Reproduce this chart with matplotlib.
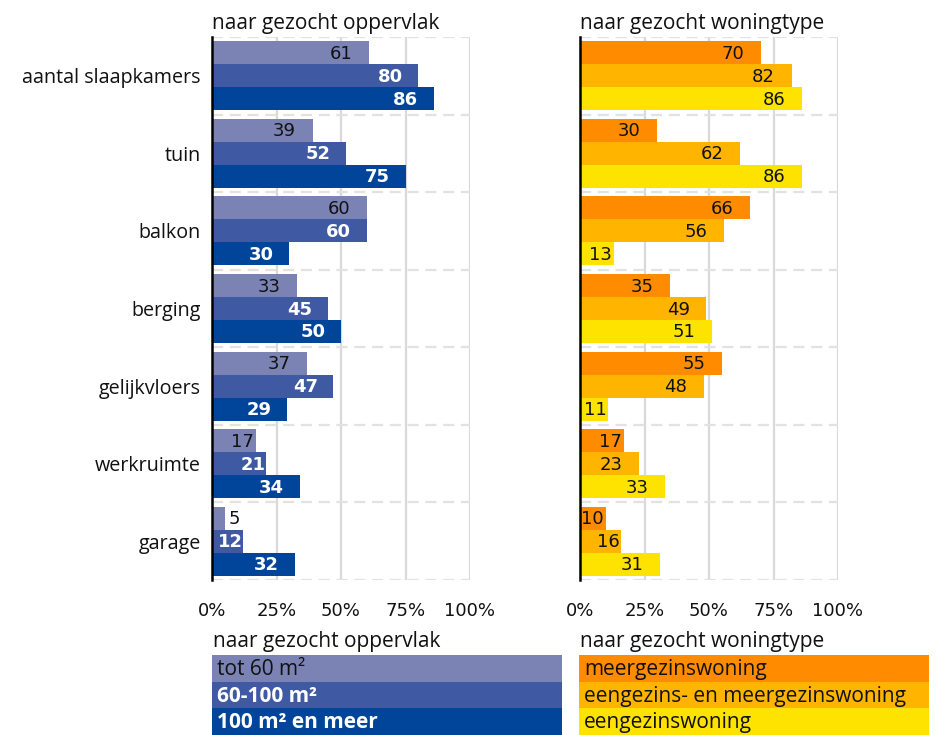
import matplotlib
matplotlib.use("Agg")
import matplotlib.pyplot as plt
from matplotlib.patches import Rectangle
import numpy as np

categories = ["aantal slaapkamers", "tuin", "balkon", "berging",
              "gelijkvloers", "werkruimte", "garage"]

# naar gezocht oppervlak
opp_series = ["tot 60 m²", "60-100 m²", "100 m² en meer"]
opp_tot60 = [61, 39, 60, 33, 37, 17, 5]
opp_60_100 = [80, 52, 60, 45, 47, 21, 12]
opp_100plus = [86, 75, 30, 50, 29, 34, 32]

# naar gezocht woningtype
type_series = ["meergezinswoning", "eengezins- en meergezinswoning", "eengezinswoning"]
type_meer = [70, 30, 66, 35, 55, 17, 10]
type_beide = [82, 62, 56, 49, 48, 23, 16]
type_eengez = [86, 86, 13, 51, 11, 33, 31]

xticks = [0, 25, 50, 75, 100]
xticklabels = ["0%", "25%", "50%", "75%", "100%"]

opp_colors = ["#7a83b3", "#3f59a3", "#00459a"]
opp_text = [("#111111", "normal"), ("white", "bold"), ("white", "bold")]
type_colors = ["#ff8c00", "#ffb400", "#ffe300"]
type_text = [("#111111", "normal")] * 3

LABEL_FONT = ["Open Sans", "DejaVu Sans"]
NUM_FONT = "DejaVu Sans"
CAT_SIZE = 14.2
TITLE_SIZE = 15

W, H = 939, 735
fig = plt.figure(figsize=(W / 100, H / 100), dpi=100)

bar_h = 0.296
n = len(categories)
ypos = np.arange(n)


def draw_panel(left_px, series_vals, colors, text_styles, title, show_labels):
    ax = fig.add_axes([left_px / W, 1 - 580 / H, 258 / W, 543 / H])
    ax.set_xlim(0, 100)
    ax.set_ylim(n - 0.5, -0.5)
    for k, (vals, col) in enumerate(zip(series_vals, colors)):
        offs = (k - 1) * bar_h
        bars = ax.barh(ypos + offs, vals, height=bar_h, color=col,
                       linewidth=0, zorder=3)
        tcol, tw = text_styles[k]
        for b, v in zip(bars, vals):
            yc = b.get_y() + b.get_height() / 2
            end_px = v * 2.58
            if v < 8:
                ax.annotate(str(v), (v, yc), xytext=(4, -1),
                            textcoords="offset pixels", ha="left", va="center",
                            fontsize=13, family=NUM_FONT, color="#111111",
                            zorder=4)
            else:
                shift = -28 if end_px - 28 >= 28 else -13
                ax.annotate(str(v), (v, yc), xytext=(shift, -1),
                            textcoords="offset pixels", ha="center", va="center",
                            fontsize=13, family=NUM_FONT, color=tcol,
                            fontweight=tw, zorder=4)
    # grid
    for x in xticks[1:]:
        ax.axvline(x, color="#d9d9d9", lw=1.6, zorder=1)
    for b in np.arange(-0.5, n, 1.0):
        ax.axhline(b, color="#e2e2e2", lw=1.6, ls=(0, (5, 3)), zorder=1)
    for s in ["top", "right", "bottom"]:
        ax.spines[s].set_visible(False)
    ax.spines["left"].set_color("black")
    ax.spines["left"].set_linewidth(1.8)
    ax.spines["left"].set_zorder(5)
    ax.set_xticks(xticks)
    ax.set_xticklabels(xticklabels, fontsize=13, family=NUM_FONT, color="#111111")
    ax.tick_params(axis="x", length=0, pad=16)
    ax.set_yticks(ypos)
    if show_labels:
        ax.set_yticklabels(categories, fontsize=CAT_SIZE, family=LABEL_FONT,
                           color="#111111")
    else:
        ax.set_yticklabels([])
    ax.tick_params(axis="y", length=0, pad=8)
    fig.text(left_px / W, 1 - 24 / H, title, ha="left", va="center",
             fontsize=TITLE_SIZE, family=LABEL_FONT, color="#111111")
    return ax


draw_panel(212, [opp_tot60, opp_60_100, opp_100plus], opp_colors, opp_text,
           "naar gezocht oppervlak", True)
draw_panel(580, [type_meer, type_beide, type_eengez], type_colors, type_text,
           "naar gezocht woningtype", False)


def draw_legend(left_px, title, labels, colors, text_styles):
    fig.text((left_px + 1) / W, 1 - 641 / H, title, ha="left", va="center",
             fontsize=TITLE_SIZE, family=LABEL_FONT, color="#111111")
    row_h = 26.7
    top = 655
    for k, (lab, col) in enumerate(zip(labels, colors)):
        y0 = top + k * row_h
        fig.patches.append(Rectangle((left_px / W, 1 - (y0 + row_h) / H),
                                     350 / W, row_h / H, transform=fig.transFigure,
                                     facecolor=col, edgecolor="none", zorder=1))
        tcol, tw = text_styles[k]
        fig.text((left_px + 5) / W, 1 - (y0 + row_h / 2 + 1) / H, lab,
                 ha="left", va="center", fontsize=TITLE_SIZE, family=LABEL_FONT,
                 color=tcol, fontweight=tw, zorder=2)


draw_legend(212, "naar gezocht oppervlak", opp_series, opp_colors, opp_text)
draw_legend(579, "naar gezocht woningtype", type_series, type_colors, type_text)

fig.savefig("out.png", dpi=100)
